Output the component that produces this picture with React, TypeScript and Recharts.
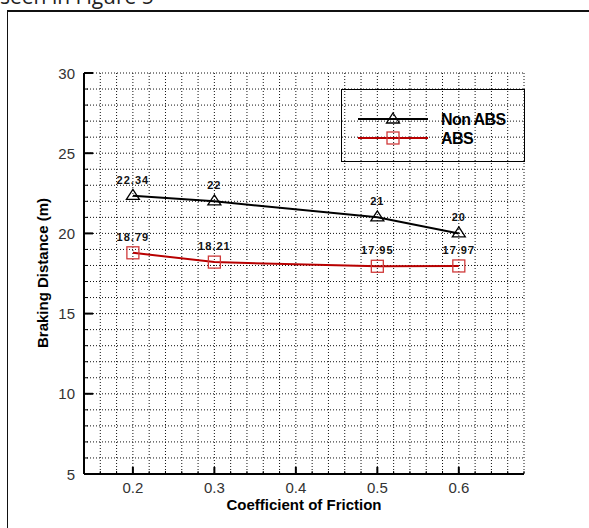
import React from "react";
import { LineChart, Line, XAxis, YAxis, CartesianGrid, LabelList, Label } from "recharts";

const frictionCoefficients = [0.2, 0.3, 0.5, 0.6];
const nonAbsDistance = [22.34, 22, 21, 20];
const absDistance = [18.79, 18.21, 17.95, 17.97];
const xTicks = [0.14, 0.16, 0.18, 0.2, 0.22, 0.24, 0.26, 0.28, 0.3, 0.32, 0.34, 0.36, 0.38, 0.4, 0.42, 0.44, 0.46, 0.48, 0.5, 0.52, 0.54, 0.56, 0.58, 0.6, 0.62, 0.64, 0.66, 0.68];
const xMajor = [0.2, 0.3, 0.4, 0.5, 0.6];
const yTicks = [5, 6, 7, 8, 9, 10, 11, 12, 13, 14, 15, 16, 17, 18, 19, 20, 21, 22, 23, 24, 25, 26, 27, 28, 29, 30];
const yMajor = [5, 10, 15, 20, 25, 30];
const seriesNames = ["Non ABS", "ABS"];

const data = frictionCoefficients.map((x, i) => ({
  mu: x,
  nonAbs: nonAbsDistance[i],
  abs: absDistance[i],
}));

const TICK_FONT = "'Liberation Sans', Arial, sans-serif";
const RED_LINE = "#b80000";
const RED_MARK = "#d03a3a";

const isIn = (arr: number[], v: number) => arr.some((a) => Math.abs(a - v) < 1e-6);

const XTick = (props: any) => {
  const { x, y, payload } = props;
  const major = isIn(xMajor, payload.value);
  return (
    <g>
      <line x1={x} x2={x} y1={y} y2={y - (major ? 7 : 3)} stroke="#000" strokeWidth={major ? 2 : 1} />
      {major && (
        <text x={x} y={y + 19} textAnchor="middle" fontFamily={TICK_FONT} fontSize={15} fill="#333">
          {String(payload.value)}
        </text>
      )}
    </g>
  );
};

const YTick = (props: any) => {
  const { x, y, payload } = props;
  const major = isIn(yMajor, payload.value);
  return (
    <g>
      <line x1={x} x2={x + (major ? 9 : 4)} y1={y} y2={y} stroke="#000" strokeWidth={major ? 2 : 1} />
      {major && (
        <text x={x - 9} y={y + 5.5} textAnchor="end" fontFamily={TICK_FONT} fontSize={15} fill="#333">
          {String(payload.value)}
        </text>
      )}
    </g>
  );
};

const TriangleDot = (props: any) => {
  const { cx, cy } = props;
  if (cx == null || cy == null) return null;
  return (
    <path
      d={`M${cx},${cy - 6.5} L${cx + 6.5},${cy + 3.5} L${cx - 6.5},${cy + 3.5} Z`}
      fill="none"
      stroke="#000"
      strokeWidth={1.3}
    />
  );
};

const SquareDot = (props: any) => {
  const { cx, cy } = props;
  if (cx == null || cy == null) return null;
  return <rect x={cx - 6} y={cy - 6} width={12} height={12} fill="none" stroke={RED_MARK} strokeWidth={1.3} />;
};

const YTitle = (props: any) => {
  const cx = 42;
  const cy = 273;
  return (
    <text
      x={cx}
      y={cy}
      textAnchor="middle"
      dominantBaseline="central"
      transform={`rotate(-90 ${cx} ${cy})`}
      fontFamily={TICK_FONT}
      fontWeight="bold"
      fontSize={15}
      fill="#000"
    >
      Braking Distance (m)
    </text>
  );
};

const labelStyle = {
  fontFamily: TICK_FONT,
  fontWeight: "bold" as const,
  fontSize: 11,
  letterSpacing: 1,
  fill: "#111",
};

export default function App() {
  return (
    <div style={{ position: "fixed", left: 0, top: 0, width: 589, height: 528, background: "#fff", overflow: "hidden" }}>
      <div
        style={{
          position: "absolute",
          left: 0,
          top: -18,
          fontFamily: "'Open Sans', sans-serif",
          fontSize: 21,
          lineHeight: "28px",
          color: "#222",
          whiteSpace: "nowrap",
        }}
      >
        seen in Figure 5
      </div>
      <div
        style={{
          position: "absolute",
          left: 7,
          top: 10,
          width: 600,
          height: 600,
          borderLeft: "1px solid #111",
          borderTop: "2px solid #111",
        }}
      />
      <div style={{ position: "absolute", left: 0, top: 0 }}>
        <LineChart width={589} height={528} data={data} margin={{ top: 73, right: 65, bottom: 0, left: 0 }}>
          <CartesianGrid stroke="#111" strokeDasharray="1 2" strokeWidth={1} />
          <XAxis
            dataKey="mu"
            type="number"
            domain={[0.14, 0.68]}
            ticks={xTicks}
            interval={0}
            height={54}
            tickSize={0}
            tickMargin={0}
            tickLine={false}
            tick={<XTick />}
            axisLine={{ stroke: "#000", strokeWidth: 2 }}
            allowDataOverflow
          >
            <Label
              value="Coefficient of Friction"
              position="insideBottom"
              offset={18}
              style={{ fontFamily: TICK_FONT, fontWeight: "bold", fontSize: 15, fill: "#000" }}
            />
          </XAxis>
          <YAxis
            type="number"
            domain={[5, 30]}
            ticks={yTicks}
            interval={0}
            width={84}
            tickSize={0}
            tickMargin={0}
            tickLine={false}
            tick={<YTick />}
            axisLine={{ stroke: "#000", strokeWidth: 2 }}
            allowDataOverflow
          >
            <Label content={<YTitle />} />
          </YAxis>
          <Line
            dataKey="nonAbs"
            name={seriesNames[0]}
            stroke="#000"
            strokeWidth={2}
            dot={<TriangleDot />}
            activeDot={false}
            isAnimationActive={false}
          >
            <LabelList dataKey="nonAbs" position="top" offset={12} style={labelStyle} />
          </Line>
          <Line
            dataKey="abs"
            name={seriesNames[1]}
            stroke={RED_LINE}
            strokeWidth={2}
            dot={<SquareDot />}
            activeDot={false}
            isAnimationActive={false}
          >
            <LabelList dataKey="abs" position="top" offset={12} style={labelStyle} />
          </Line>
        </LineChart>
      </div>
      <svg width={589} height={528} style={{ position: "absolute", left: 0, top: 0, pointerEvents: "none" }}>
        <rect x={341.5} y={89.5} width={183} height={72} fill="none" stroke="#000" strokeWidth={1} />
        <line x1={358} x2={428} y1={119} y2={119} stroke="#000" strokeWidth={2} />
        <path d="M393,113 L399.5,123 L386.5,123 Z" fill="none" stroke="#000" strokeWidth={1.3} />
        <text x={441} y={125} fontFamily={TICK_FONT} fontWeight="bold" fontSize={16} letterSpacing={-0.6} fill="#000">
          {seriesNames[0]}
        </text>
        <line x1={358} x2={428} y1={138} y2={138} stroke={RED_LINE} strokeWidth={2} />
        <rect x={387} y={132} width={12} height={12} fill="none" stroke={RED_MARK} strokeWidth={1.3} />
        <text x={441} y={144} fontFamily={TICK_FONT} fontWeight="bold" fontSize={16} letterSpacing={-0.6} fill="#000">
          {seriesNames[1]}
        </text>
      </svg>
    </div>
  );
}
